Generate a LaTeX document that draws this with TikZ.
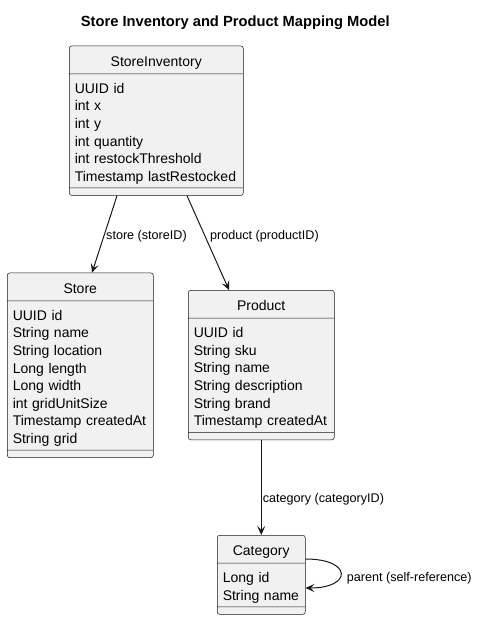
\documentclass[tikz,border=0pt]{standalone}
\usepackage{fontspec}
\setmainfont{Liberation Sans}
\usetikzlibrary{shapes.multipart,arrows.meta,calc}

\definecolor{boxfill}{HTML}{F1F1F1}
\definecolor{boxline}{HTML}{181818}
\newcommand\hdstrut{\rule[-4pt]{0pt}{20.3pt}}
\newcommand\fldstrut{\rule[-1.8pt]{0pt}{17.6pt}}
\newcommand\fldfont{\fontsize{14}{17.6}\selectfont\lineskiplimit=-100pt\relax}

\begin{document}
\begin{tikzpicture}[x=1pt, y=1pt,
  classbox/.style={rectangle split, rectangle split parts=3, draw=boxline,
    fill=boxfill, line width=0.5pt, rounded corners=2.5pt, inner xsep=5.5pt,
    inner ysep=3.5pt, align=left, anchor=north west, font=\fldfont,
    rectangle split empty part height=0pt, rectangle split empty part depth=0pt},
  link/.style={-{Stealth[length=9pt,width=8pt,inset=4pt]}, line width=1pt, draw=boxline},
  lbl/.style={anchor=base west, inner sep=0pt, font=\fontsize{12.6}{15}\selectfont}]

  \useasboundingbox (0,0) rectangle (483,-619);

  \node[font=\bfseries\fontsize{14.7}{17}\selectfont, anchor=base] (title) at (235.3,-26)
    {Store Inventory and Product Mapping Model};

  % classes
  \node[classbox, text width=163pt] (inv) at (69,-45.7) {\hfill\hdstrut StoreInventory\hfill\null
    \nodepart{two}\fldstrut UUID id\\\fldstrut int x\\\fldstrut int y\\\fldstrut int quantity\\
    \fldstrut int restockThreshold\\\fldstrut Timestamp lastRestocked
    \nodepart{three}};

  \node[classbox, text width=135pt] (store) at (7,-272.7) {\hfill\hdstrut Store\hfill\null
    \nodepart{two}\fldstrut UUID id\\\fldstrut String name\\\fldstrut String location\\
    \fldstrut Long length\\\fldstrut Long width\\\fldstrut int gridUnitSize\\
    \fldstrut Timestamp createdAt\\\fldstrut String grid
    \nodepart{three}};

  \node[classbox, text width=135pt] (prod) at (188,-290) {\hfill\hdstrut Product\hfill\null
    \nodepart{two}\fldstrut UUID id\\\fldstrut String sku\\\fldstrut String name\\
    \fldstrut String description\\\fldstrut String brand\\\fldstrut Timestamp createdAt
    \nodepart{three}};

  \node[classbox, text width=77pt] (cat) at (217,-535) {\hfill\hdstrut Category\hfill\null
    \nodepart{two}\fldstrut Long id\\\fldstrut String name
    \nodepart{three}};

  % links
  \draw[link] ($(inv.south west)+(48,0)$) -- ($(store.north west)+(85,0)$);
  \draw[link] ($(inv.south west)+(118,0)$) -- ($(prod.north west)+(41,0)$);
  \draw[link] (prod.south) -- (cat.north);
  \draw[link] ($(cat.north east)+(0,-24)$) .. controls +(47,0) and +(47,0) .. ($(cat.north east)+(0,-53)$);

  \node[lbl] (lstore) at (106,-239.3) {store (storeID)};
  \node[lbl] (lprod) at (210,-239.3) {product (productID)};
  \node[lbl] (lcat) at (262.7,-502.7) {category (categoryID)};
  \node[lbl] (lparent) at (346.7,-581.7) {parent (self-reference)};

\end{tikzpicture}
\end{document}
